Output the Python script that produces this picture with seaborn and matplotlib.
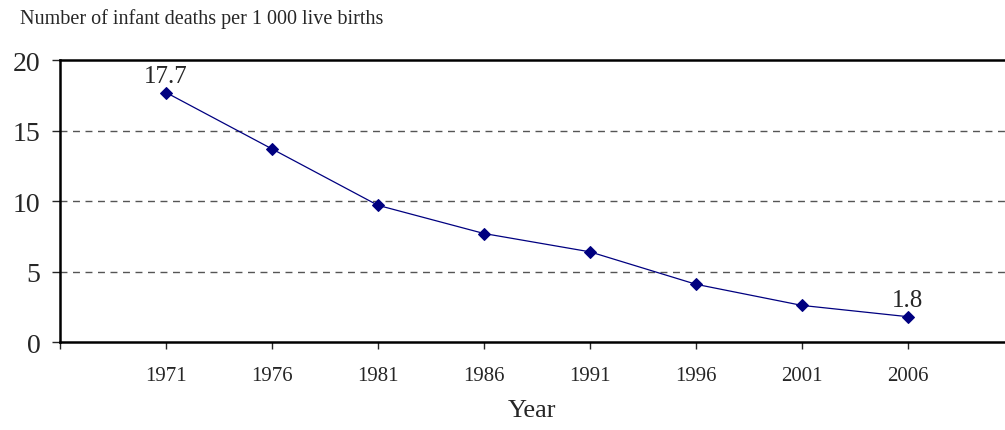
import pandas as pd
import seaborn as sns
import matplotlib.pyplot as plt

# Infant deaths per 1 000 live births, census years
years = [1971, 1976, 1981, 1986, 1991, 1996, 2001, 2006]
deaths = [17.7, 13.7, 9.7, 7.7, 6.4, 4.1, 2.6, 1.8]
y_ticks = [0, 5, 10, 15, 20]
labelled = {1971: "17.7", 2006: "1.8"}

df = pd.DataFrame({"Year": years, "Deaths": deaths})

sns.set_style("white")
plt.rcParams["font.family"] = ["Liberation Serif", "DejaVu Serif"]

fig = plt.figure(figsize=(10.05, 4.31), dpi=100)
ax = fig.add_axes([0.0597, 0.204, 0.9403, 0.6543])

sns.lineplot(
    data=df,
    x="Year",
    y="Deaths",
    ax=ax,
    color="#000080",
    linewidth=0.9,
    marker="D",
    markersize=6,
    markeredgecolor="#000080",
)

for yr, txt in labelled.items():
    val = deaths[years.index(yr)]
    ax.annotate(txt, (yr, val), xytext=(0, 4), textcoords="offset points",
                ha="center", va="bottom", fontsize=18)

# grid lines
for y in y_ticks[1:-1]:
    ax.axhline(y, color="#555555", linestyle=(0, (5, 4)), linewidth=1.0, zorder=0)

ax.set_xlim(1966, 2010.58)
ax.set_ylim(0, 20)
ax.set_xticks([1966] + years)
ax.set_xticklabels([""] + [str(y) for y in years], fontsize=15)
ax.set_yticks(y_ticks)
ax.set_yticklabels([str(t) for t in y_ticks], fontsize=20)
ax.tick_params(axis="x", direction="out", length=5, width=1, pad=12, bottom=True)
ax.tick_params(axis="y", direction="out", length=6, width=1, pad=8, left=True)

for side in ["left", "top", "bottom"]:
    ax.spines[side].set_linewidth(1.8)
    ax.spines[side].set_color("black")
ax.spines["right"].set_visible(False)

ax.set_xlabel("Year", fontsize=19, labelpad=10)
ax.set_ylabel("")
fig.text(0.02, 0.955, "Number of infant deaths per 1 000 live births",
         fontsize=14.5, ha="left", va="center")

fig.savefig("out.png", dpi=100)
